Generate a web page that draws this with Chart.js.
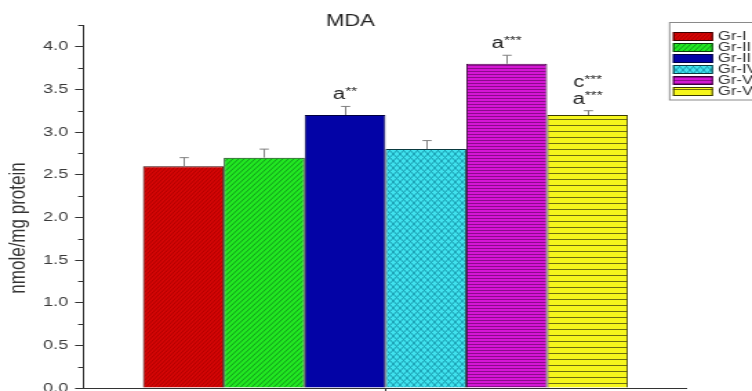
<!DOCTYPE html>
<html>
<head>
<meta charset="utf-8">
<script src="https://cdn.jsdelivr.net/npm/chart.js@4"></script>
<style>
  html, body { margin: 0; padding: 0; background: #fff; overflow: hidden; width: 752px; height: 391px; }
  #c { display: block; transform: scaleX(1.3798); transform-origin: 0 0; }
</style>
</head>
<body>
<canvas id="c" width="545" height="391"></canvas>
<script>
// MDA levels per group (nmole/mg protein)
const groups = ['Gr-I', 'Gr-II', 'Gr-III', 'Gr-IV', 'Gr-V', 'Gr-VI'];
const mdaMeans = [2.6, 2.7, 3.2, 2.8, 3.8, 3.2];
const mdaErrors = [0.1, 0.1, 0.1, 0.1, 0.1, 0.05];
// significance marks, listed top line first
const sigMarks = [[], [], [['a', '**']], [], [['a', '***']], [['c', '***'], ['a', '***']]];
const yTickValues = [0, 0.5, 1.0, 1.5, 2.0, 2.5, 3.0, 3.5, 4.0];
const yMinorValues = [0.25, 0.75, 1.25, 1.75, 2.25, 2.75, 3.25, 3.75, 4.25];

const FONT = "'Liberation Sans', Arial, sans-serif";
const canvas = document.getElementById('c');
const ctx = canvas.getContext('2d');

function makePattern(bg, fg, w, h, draw) {
  const t = document.createElement('canvas');
  t.width = w; t.height = h;
  const g = t.getContext('2d');
  g.fillStyle = bg;
  g.fillRect(0, 0, w, h);
  g.strokeStyle = fg;
  g.fillStyle = fg;
  g.lineWidth = 1;
  draw(g, w, h);
  return ctx.createPattern(t, 'repeat');
}
function slash(g, w, h) {
  g.beginPath();
  g.moveTo(0, h); g.lineTo(w, 0);
  g.moveTo(-w, h); g.lineTo(0, 0);
  g.moveTo(w, h); g.lineTo(2 * w, 0);
  g.stroke();
}
function cross(g, w, h) {
  slash(g, w, h);
  g.beginPath();
  g.moveTo(0, 0); g.lineTo(w, h);
  g.moveTo(-w, 0); g.lineTo(0, h);
  g.moveTo(w, 0); g.lineTo(2 * w, h);
  g.stroke();
}
function rows(g, w, h) { g.fillRect(0, h - 1, w, 1); }

const fills = [
  makePattern('#d60606', '#b00000', 3, 4, slash),
  makePattern('#22e822', '#11991a', 4, 5, slash),
  '#0303a6',
  makePattern('#40e2ee', '#1a9cb0', 5, 7, cross),
  makePattern('#d416d4', '#8c0a8c', 1, 3, rows),
  makePattern('#f6f61c', '#6e6e10', 1, 6, rows)
];
const edges = ['#3a0000', '#0a3a0a', '#000040', '#0a3a40', '#3a003a', '#3a3a00'];

const datasets = groups.map((g, i) => ({
  label: g,
  data: [mdaMeans[i]],
  backgroundColor: fills[i],
  borderColor: edges[i],
  borderWidth: 1,
  categoryPercentage: 0.8045,
  barPercentage: 1.0
}));

const decorations = {
  id: 'decorations',
  afterDatasetsDraw(chart) {
    const c = chart.ctx;
    const ys = chart.scales.y;
    c.save();
    // error bars (upper only)
    c.strokeStyle = '#808080';
    c.lineWidth = 1;
    chart.data.datasets.forEach((ds, i) => {
      const bar = chart.getDatasetMeta(i).data[0];
      const x = Math.round(bar.x) + 0.5;
      const yTop = ys.getPixelForValue(mdaMeans[i] + mdaErrors[i]);
      c.beginPath();
      c.moveTo(x, bar.y);
      c.lineTo(x, yTop);
      c.moveTo(x - 3.3, yTop);
      c.lineTo(x + 3.3, yTop);
      c.stroke();
    });
    // significance letters with superscript stars
    c.fillStyle = '#1e1e1e';
    c.textBaseline = 'alphabetic';
    sigMarks.forEach((marks, i) => {
      if (!marks.length) return;
      const bar = chart.getDatasetMeta(i).data[0];
      const yTop = ys.getPixelForValue(mdaMeans[i] + mdaErrors[i]);
      const n = marks.length;
      marks.forEach(([letter, stars], k) => {
        const base = yTop - 7 - (n - 1 - k) * 16.5;
        c.font = '16px ' + FONT;
        const wl = c.measureText(letter).width;
        c.font = '11px ' + FONT;
        const ws = c.measureText(stars).width;
        const x0 = bar.x - (wl + ws) / 2;
        c.font = '16px ' + FONT;
        c.textAlign = 'left';
        c.fillText(letter, x0, base);
        c.font = '11px ' + FONT;
        c.fillText(stars, x0 + wl, base - 4.5);
      });
    });
    c.restore();
  },
  afterDraw(chart) {
    const c = chart.ctx;
    const ys = chart.scales.y;
    const left = chart.chartArea.left;
    c.save();
    // minor ticks on the value axis
    c.strokeStyle = '#333';
    c.lineWidth = 1;
    c.beginPath();
    yMinorValues.forEach(v => {
      const y = Math.round(ys.getPixelForValue(v)) + 0.5;
      c.moveTo(left - 4.3, y);
      c.lineTo(left, y);
    });
    c.stroke();

    // chart title
    c.fillStyle = '#222';
    c.font = '16px ' + FONT;
    c.textAlign = 'center';
    c.textBaseline = 'alphabetic';
    c.fillText('MDA', 254, 26);

    // value axis title
    c.save();
    c.translate(13, 228);
    c.rotate(-Math.PI / 2);
    c.font = '17px ' + FONT;
    c.fillStyle = '#333';
    c.textAlign = 'center';
    c.textBaseline = 'middle';
    c.fillText('nmole/mg protein', 0, 0);
    c.restore();

    // legend
    const bx = 484.8, by = 22, rowH = 11, firstRow = 36.5;
    const bottom = firstRow + rowH * (groups.length - 1) + 8;
    c.strokeStyle = '#8a8a8a';
    c.lineWidth = 1;
    c.strokeRect(bx + 0.5, by + 0.5, 120, bottom - by);
    groups.forEach((g, i) => {
      const cy = firstRow + rowH * i;
      c.fillStyle = fills[i];
      c.fillRect(487.7, cy - 4.5, 29, 9);
      c.strokeStyle = edges[i];
      c.strokeRect(487.7 + 0.5, cy - 4.5 + 0.5, 28, 8);
      c.fillStyle = '#333';
      c.font = '12px ' + FONT;
      c.textAlign = 'left';
      c.textBaseline = 'middle';
      c.fillText(g, 520.3, cy + 0.5);
    });
    c.restore();
  }
};

new Chart(canvas, {
  type: 'bar',
  data: { labels: ['MDA'], datasets },
  options: {
    responsive: false,
    devicePixelRatio: 1,
    animation: false,
    layout: { padding: { left: 0, right: 47.2, top: 25.4, bottom: 0 } },
    plugins: { legend: { display: false }, tooltip: { enabled: false }, title: { display: false } },
    scales: {
      x: {
        type: 'category',
        offset: true,
        ticks: { display: false },
        grid: { offset: false, drawOnChartArea: false, drawTicks: true, tickLength: 6, color: '#333' },
        border: { color: '#333', width: 1 },
        afterFit(s) { s.height = 3; s.paddingLeft = 0; s.paddingRight = 0; }
      },
      y: {
        min: 0,
        max: 4.25,
        afterBuildTicks(s) { s.ticks = yTickValues.map(v => ({ value: v })); },
        ticks: {
          color: '#3a3a3a',
          padding: 5,
          font: { family: FONT, size: 13 },
          callback: v => Number(v).toFixed(1)
        },
        grid: { drawOnChartArea: false, drawTicks: true, tickLength: 6.5, color: '#333' },
        border: { color: '#333', width: 1 },
        afterFit(s) { s.width = 60.9; s.paddingTop = 0; s.paddingBottom = 0; }
      }
    }
  },
  plugins: [decorations]
});
</script>
</body>
</html>
